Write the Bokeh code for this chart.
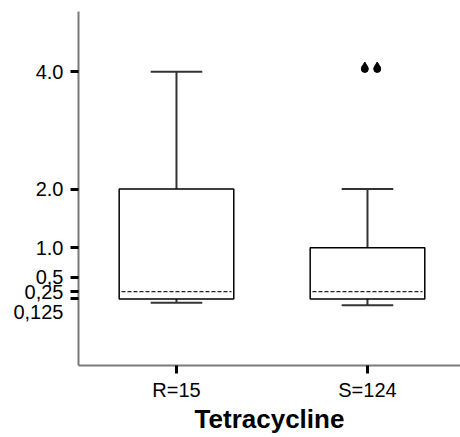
from bokeh.plotting import figure
from bokeh.models import Range1d, FixedTicker, ColumnDataSource
from bokeh.embed import file_html
from bokeh.resources import INLINE

# ---- data ----
categories = ["R=15", "S=124"]
cat_pos = [1, 2]
q1 = [0.125, 0.125]
median = [0.25, 0.25]
q3 = [2.0, 1.0]
lower = [0.0625, 0.02]
upper = [4.0, 2.0]
outlier_x = [1.986, 2.051]
outlier_y = [4.05, 4.05]
ytick_values = [0.125, 0.25, 0.5, 1.0, 2.0, 4.0]
ytick_labels = ["\n0,125", "0,25", "0,5", "1.0", "2.0", "4.0"]
axis_title = "Tetracycline"

BOX_W = 0.6
CAP_W = 0.27

p = figure(width=460, height=437, output_backend="svg", toolbar_location=None,
           x_range=Range1d(0.487, 2.487), y_range=Range1d(-1.01, 5.03),
           min_border_left=78, min_border_top=11, min_border_right=0, min_border_bottom=72)
p.outline_line_color = None
p.xgrid.visible = False
p.ygrid.visible = False
p.background_fill_color = "white"

src = ColumnDataSource(dict(
    x=cat_pos, q1=q1, med=median, q3=q3, lo=lower, up=upper,
    xl=[c - BOX_W / 2 + 0.012 for c in cat_pos], xr=[c + BOX_W / 2 - 0.012 for c in cat_pos],
    cl=[c - CAP_W / 2 for c in cat_pos], cr=[c + CAP_W / 2 for c in cat_pos],
))

# whiskers
p.segment(x0="x", y0="q3", x1="x", y1="up", source=src, line_color="#333333", line_width=2)
p.segment(x0="x", y0="q1", x1="x", y1="lo", source=src, line_color="#333333", line_width=2)
p.segment(x0="cl", y0="up", x1="cr", y1="up", source=src, line_color="#333333", line_width=2)
p.segment(x0="cl", y0="lo", x1="cr", y1="lo", source=src, line_color="#333333", line_width=2)
# boxes
p.vbar(x="x", bottom="q1", top="q3", width=BOX_W, source=src,
       fill_color="white", line_color="black", line_width=1.5)
# median
p.segment(x0="xl", y0="med", x1="xr", y1="med", source=src,
          line_color="#222222", line_width=1.3, line_dash="4 2")
# outliers (teardrop-like)
p.scatter(outlier_x, outlier_y, marker="circle", size=7, fill_color="black", line_color="black")
p.scatter(outlier_x, [v + 0.06 for v in outlier_y], marker="triangle", size=6,
          fill_color="black", line_color="black")

FONT = "Liberation Sans"
# y axis
ya = p.yaxis[0]
ya.ticker = FixedTicker(ticks=ytick_values)
ya.major_label_overrides = {v: l for v, l in zip(ytick_values, ytick_labels)}
ya.minor_tick_line_color = None
ya.axis_line_color = "#7a7a7a"
ya.axis_line_width = 2
ya.major_tick_line_color = "black"
ya.major_tick_line_width = 3
ya.major_tick_out = 8
ya.major_tick_in = 0
ya.major_label_standoff = 7
ya.major_label_text_font = FONT
ya.major_label_text_font_size = "20px"
ya.major_label_text_color = "black"

# x axis
xa = p.xaxis[0]
xa.ticker = FixedTicker(ticks=cat_pos)
xa.major_label_overrides = {c: l for c, l in zip(cat_pos, categories)}
xa.minor_tick_line_color = None
xa.axis_line_color = "#7a7a7a"
xa.axis_line_width = 2
xa.major_tick_line_color = "black"
xa.major_tick_line_width = 3
xa.major_tick_out = 8
xa.major_tick_in = 0
xa.major_label_standoff = 5
xa.major_label_text_font = FONT
xa.major_label_text_font_size = "20px"
xa.major_label_text_color = "black"
xa.axis_label = axis_title
xa.axis_label_text_font = FONT
xa.axis_label_text_font_style = "bold"
xa.axis_label_text_font_size = "26px"
xa.axis_label_text_color = "black"
xa.axis_label_standoff = 0

open("out.html", "w").write(file_html(p, INLINE))
